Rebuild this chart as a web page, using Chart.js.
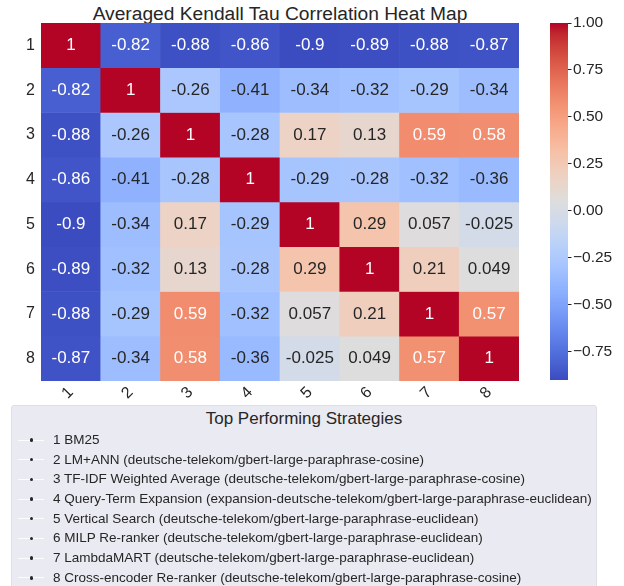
<!DOCTYPE html>
<html><head><meta charset="utf-8">
<script src="https://cdn.jsdelivr.net/npm/chart.js@4"></script>
<style>
html,body{margin:0;padding:0;background:#fff;width:624px;height:586px;overflow:hidden;font-family:"Liberation Sans",Arial,sans-serif;color:#262626}
#title{position:absolute;left:0;top:3.5px;width:560px;text-align:center;font-size:19.2px;line-height:20px;white-space:nowrap}
#hm{position:absolute;left:0;top:0}
#cb{position:absolute;left:540px;top:0}
#legend{position:absolute;left:11px;top:405px;width:586px;height:200px;background:#eaeaf2;border:1px solid #dedee6;border-radius:3px;box-sizing:border-box}
#legend .lt{margin-top:3px;text-align:center;font-size:17px;line-height:20px}
#legend ul{list-style:none;margin:1px 0 0 0;padding:0}
#legend li{position:relative;font-size:13.5px;line-height:19.7px;height:19.7px;padding-left:41px;white-space:nowrap}
#legend li .ln{position:absolute;left:6px;top:9.5px;width:26px;height:1px;background:rgba(255,255,255,0.85)}
#legend li .dt{position:absolute;left:17.5px;top:8.3px;width:3.4px;height:3.4px;border-radius:50%;background:#262626}
</style></head>
<body>
<div id="title">Averaged Kendall Tau Correlation Heat Map</div>
<canvas id="hm" width="520" height="411"></canvas>
<canvas id="cb" width="84" height="411"></canvas>
<div id="legend"><div class="lt">Top Performing Strategies</div><ul id="items"></ul></div>
<script>
// ---- data ----
const rowLabels = ['1','2','3','4','5','6','7','8'];
const colLabels = ['1','2','3','4','5','6','7','8'];
const r1 = [1, -0.82, -0.88, -0.86, -0.9, -0.89, -0.88, -0.87];
const r2 = [-0.82, 1, -0.26, -0.41, -0.34, -0.32, -0.29, -0.34];
const r3 = [-0.88, -0.26, 1, -0.28, 0.17, 0.13, 0.59, 0.58];
const r4 = [-0.86, -0.41, -0.28, 1, -0.29, -0.28, -0.32, -0.36];
const r5 = [-0.9, -0.34, 0.17, -0.29, 1, 0.29, 0.057, -0.025];
const r6 = [-0.89, -0.32, 0.13, -0.28, 0.29, 1, 0.21, 0.049];
const r7 = [-0.88, -0.29, 0.59, -0.32, 0.057, 0.21, 1, 0.57];
const r8 = [-0.87, -0.34, 0.58, -0.36, -0.025, 0.049, 0.57, 1];
const colorbarTicks = [-0.75, -0.5, -0.25, 0, 0.25, 0.5, 0.75, 1];
const strategies = [
  '1 BM25',
  '2 LM+ANN (deutsche-telekom/gbert-large-paraphrase-cosine)',
  '3 TF-IDF Weighted Average (deutsche-telekom/gbert-large-paraphrase-cosine)',
  '4 Query-Term Expansion (expansion-deutsche-telekom/gbert-large-paraphrase-euclidean)',
  '5 Vertical Search (deutsche-telekom/gbert-large-paraphrase-euclidean)',
  '6 MILP Re-ranker (deutsche-telekom/gbert-large-paraphrase-euclidean)',
  '7 LambdaMART (deutsche-telekom/gbert-large-paraphrase-euclidean)',
  '8 Cross-encoder Re-ranker (deutsche-telekom/gbert-large-paraphrase-cosine)'
];
const matrix = [r1, r2, r3, r4, r5, r6, r7, r8];

// ---- colormap (coolwarm) ----
const CW = [[59,76,192],[68,90,204],[77,104,215],[87,117,225],[98,130,234],[108,142,241],[119,154,247],[130,165,251],[141,176,254],[152,185,255],[163,194,255],[174,201,253],[184,208,249],[194,213,244],[204,217,238],[213,219,230],[221,221,221],[229,216,209],[236,211,197],[241,204,185],[245,196,173],[247,187,160],[247,177,148],[247,166,135],[244,154,123],[241,141,111],[236,127,99],[229,112,88],[222,96,77],[213,80,66],[203,62,56],[192,40,47],[180,4,38]];
function cwRGB(t){
  t = Math.max(0, Math.min(1, t));
  const p = t * (CW.length - 1), i = Math.min(CW.length - 2, Math.floor(p)), f = p - i;
  return CW[i].map((c, k) => c + (CW[i+1][k] - c) * f);
}
function cw(t){ const c = cwRGB(t); return `rgb(${c.map(Math.round).join(',')})`; }
const allVals = matrix.flat();
const vmin = Math.min(...allVals), vmax = Math.max(...allVals);
const norm = v => (v - vmin) / (vmax - vmin);
function lum(rgb){
  const l = rgb.map(c => { c /= 255; return c <= 0.03928 ? c / 12.92 : Math.pow((c + 0.055) / 1.055, 2.4); });
  return 0.2126*l[0] + 0.7152*l[1] + 0.0722*l[2];
}
const textColor = v => lum(cwRGB(norm(v))) > 0.408 ? '#262626' : '#ffffff';
const FONT = '"Liberation Sans", Arial, sans-serif';

// ---- legend ----
const ul = document.getElementById('items');
strategies.forEach(s => {
  const li = document.createElement('li');
  li.innerHTML = '<span class="ln"></span><span class="dt"></span>';
  li.appendChild(document.createTextNode(s));
  ul.appendChild(li);
});

// ---- heatmap ----
const cellText = {
  id: 'cellText',
  afterDatasetsDraw(chart){
    const ctx = chart.ctx;
    ctx.save();
    ctx.font = '17px ' + FONT;
    ctx.textAlign = 'center';
    ctx.textBaseline = 'middle';
    chart.data.datasets.forEach((ds, i) => {
      chart.getDatasetMeta(i).data.forEach((el, j) => {
        const v = ds.values[j];
        const c = el.getCenterPoint();
        ctx.fillStyle = textColor(v);
        ctx.fillText(String(v), c.x, c.y);
      });
    });
    ctx.restore();
  }
};

new Chart(document.getElementById('hm'), {
  type: 'bar',
  data: {
    labels: colLabels,
    datasets: matrix.map((row, i) => ({
      label: rowLabels[i],
      data: row.map(() => [i, i + 1]),
      values: row,
      backgroundColor: row.map(v => cw(norm(v))),
      borderWidth: 0,
      grouped: false,
      barPercentage: 1,
      categoryPercentage: 1
    }))
  },
  options: {
    responsive: false,
    animation: false,
    layout: { padding: { top: 23, right: 1, left: 0, bottom: 0 } },
    plugins: { legend: { display: false }, tooltip: { enabled: false }, title: { display: false } },
    scales: {
      x: {
        type: 'category',
        grid: { display: false, drawTicks: false },
        border: { display: false },
        ticks: { color: '#262626', font: { family: FONT, size: 16 }, maxRotation: 45, minRotation: 45, padding: 2 },
        afterFit: s => { s.height = 30; }
      },
      y: {
        type: 'linear',
        min: 0, max: rowLabels.length,
        reverse: true,
        grid: { display: false, drawTicks: false },
        border: { display: false },
        afterBuildTicks: s => { s.ticks = rowLabels.map((l, i) => ({ value: i + 0.5 })); },
        ticks: { color: '#262626', font: { family: FONT, size: 16 }, padding: 6, callback: v => rowLabels[Math.floor(v)] },
        afterFit: s => { s.width = 41; }
      }
    }
  },
  plugins: [cellText]
});

// ---- colorbar ----
new Chart(document.getElementById('cb'), {
  type: 'bar',
  data: {
    labels: [''],
    datasets: [{
      data: [[vmin, vmax]],
      borderWidth: 0,
      barPercentage: 1,
      categoryPercentage: 1,
      backgroundColor: ctx => {
        const chart = ctx.chart;
        if (!chart.chartArea) return null;
        const y0 = chart.scales.y.getPixelForValue(vmin), y1 = chart.scales.y.getPixelForValue(vmax);
        const g = chart.ctx.createLinearGradient(0, y0, 0, y1);
        for (let k = 0; k <= 64; k++) g.addColorStop(k / 64, cw(k / 64));
        return g;
      }
    }]
  },
  options: {
    responsive: false,
    animation: false,
    layout: { padding: { top: 23, left: 10, bottom: 31, right: 0 } },
    plugins: { legend: { display: false }, tooltip: { enabled: false } },
    scales: {
      x: { display: false },
      y: {
        position: 'right',
        min: vmin, max: vmax,
        grid: { drawOnChartArea: false, drawTicks: true, tickLength: 3.5, color: '#262626', lineWidth: 1 },
        border: { display: false },
        afterBuildTicks: s => { s.ticks = colorbarTicks.map(v => ({ value: v })); },
        ticks: { color: '#262626', font: { family: FONT, size: 15.5 }, padding: 1.5,
          callback: v => (v < 0 ? '\u2212' : '') + Math.abs(v).toFixed(2) },
        afterFit: s => { s.width = 56; }
      }
    }
  }
});
</script>
</body></html>
